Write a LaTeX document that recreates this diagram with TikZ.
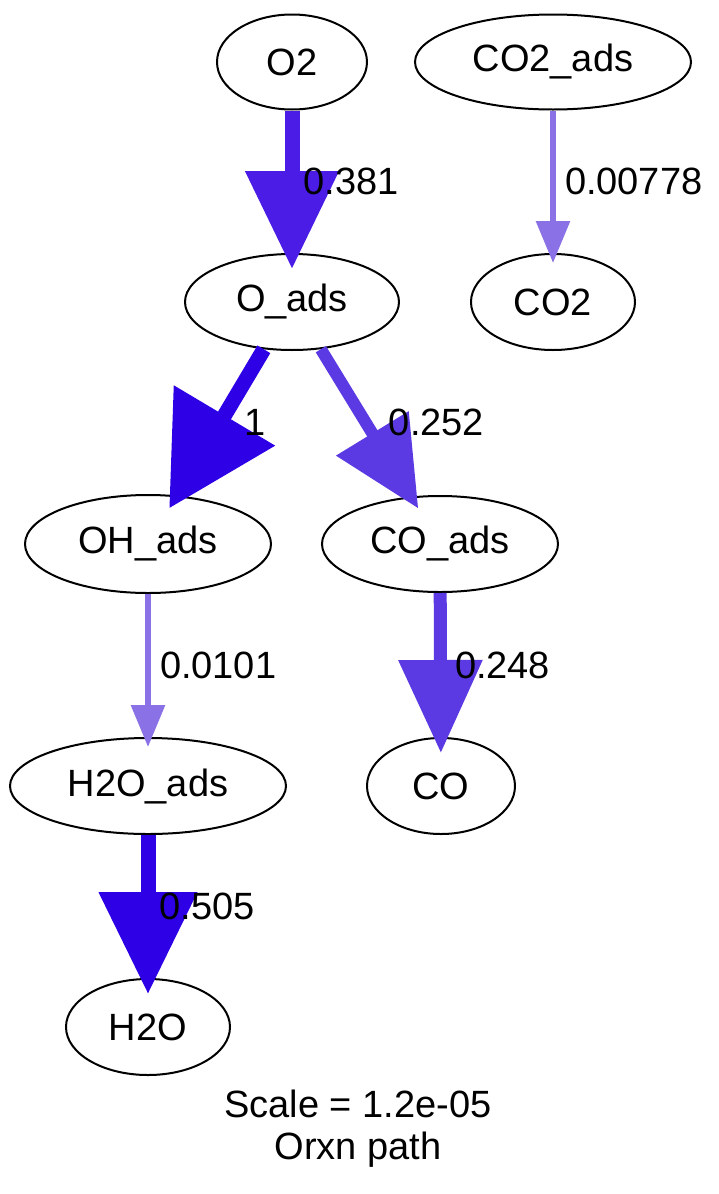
\documentclass[tikz,border=0pt]{standalone}
\usepackage{fontspec}
\setmainfont{Liberation Sans}
\usetikzlibrary{shapes.geometric,arrows.meta}
\definecolor{fluxfull}{RGB}{46,0,230}
\definecolor{fluxhigh}{RGB}{74,28,230}
\definecolor{fluxmid}{RGB}{92,58,227}
\definecolor{fluxlow}{RGB}{138,114,230}
\tikzset{
  species/.style={ellipse, draw, line width=2pt, inner sep=0pt, font=\fontsize{38}{44}\selectfont},
  flux/.style n args={5}{draw=#1, line width=#2, -{Triangle[length=#3, width=#4]}, shorten >=#5},
  fluxlabel/.style={anchor=west, inner sep=0pt, font=\fontsize{38}{44}\selectfont}
}
\begin{document}
\begin{tikzpicture}[x=1pt, y=-1pt]
    \useasboundingbox (0,0) rectangle (718,1194);
    % species
    \node[species, minimum width=150pt, minimum height=95pt] (O2) at (292,62) {O2};
    \node[species, minimum width=276pt, minimum height=95pt] (CO2ads) at (553,62) {CO2\_ads};
    \node[species, minimum width=214pt, minimum height=96pt] (Oads) at (292,302) {O\_ads};
    \node[species, minimum width=164pt, minimum height=96pt] (CO2) at (553,302) {CO2};
    \node[species, minimum width=246pt, minimum height=98pt] (OHads) at (148,544) {OH\_ads};
    \node[species, minimum width=236pt, minimum height=96pt] (COads) at (440,544) {CO\_ads};
    \node[species, minimum width=276pt, minimum height=96pt] (H2Oads) at (148,786) {H2O\_ads};
    \node[species, minimum width=148pt, minimum height=96pt] (CO) at (441,786) {CO};
    \node[species, minimum width=164pt, minimum height=96pt] (H2O) at (148,1027) {H2O};
    % fluxes
    \draw[flux={fluxhigh}{15pt}{98pt}{90pt}{-16pt}] (O2) -- (Oads)
        node[fluxlabel, midway, xshift=4pt] {0.381};
    \draw[flux={fluxlow}{6pt}{42pt}{33pt}{-10pt}] (CO2ads) -- (CO2)
        node[fluxlabel, midway, xshift=9pt] {0.00778};
    \draw[flux={fluxfull}{15pt}{108pt}{114pt}{-15pt}] (Oads) -- (OHads)
        node[fluxlabel, midway, xshift=17pt] {1};
    \draw[flux={fluxmid}{12pt}{88pt}{82pt}{-14pt}] (Oads) -- (COads)
        node[fluxlabel, midway, xshift=17pt] {0.252};
    \draw[flux={fluxlow}{6pt}{42pt}{33pt}{-10pt}] (OHads) -- (H2Oads)
        node[fluxlabel, midway, xshift=9pt] {0.0101};
    \draw[flux={fluxmid}{13pt}{93pt}{81pt}{-16pt}] (COads) -- (CO)
        node[fluxlabel, midway, xshift=8pt] {0.248};
    \draw[flux={fluxfull}{15pt}{102pt}{95pt}{-16pt}] (H2Oads) -- (H2O)
        node[fluxlabel, midway, xshift=4pt] {0.505};
    % caption
    \node[align=center, inner sep=0pt, font=\fontsize{38}{42}\selectfont] (caption) at (358,1129) {Scale = 1.2e-05\\Orxn path};
\end{tikzpicture}
\end{document}
